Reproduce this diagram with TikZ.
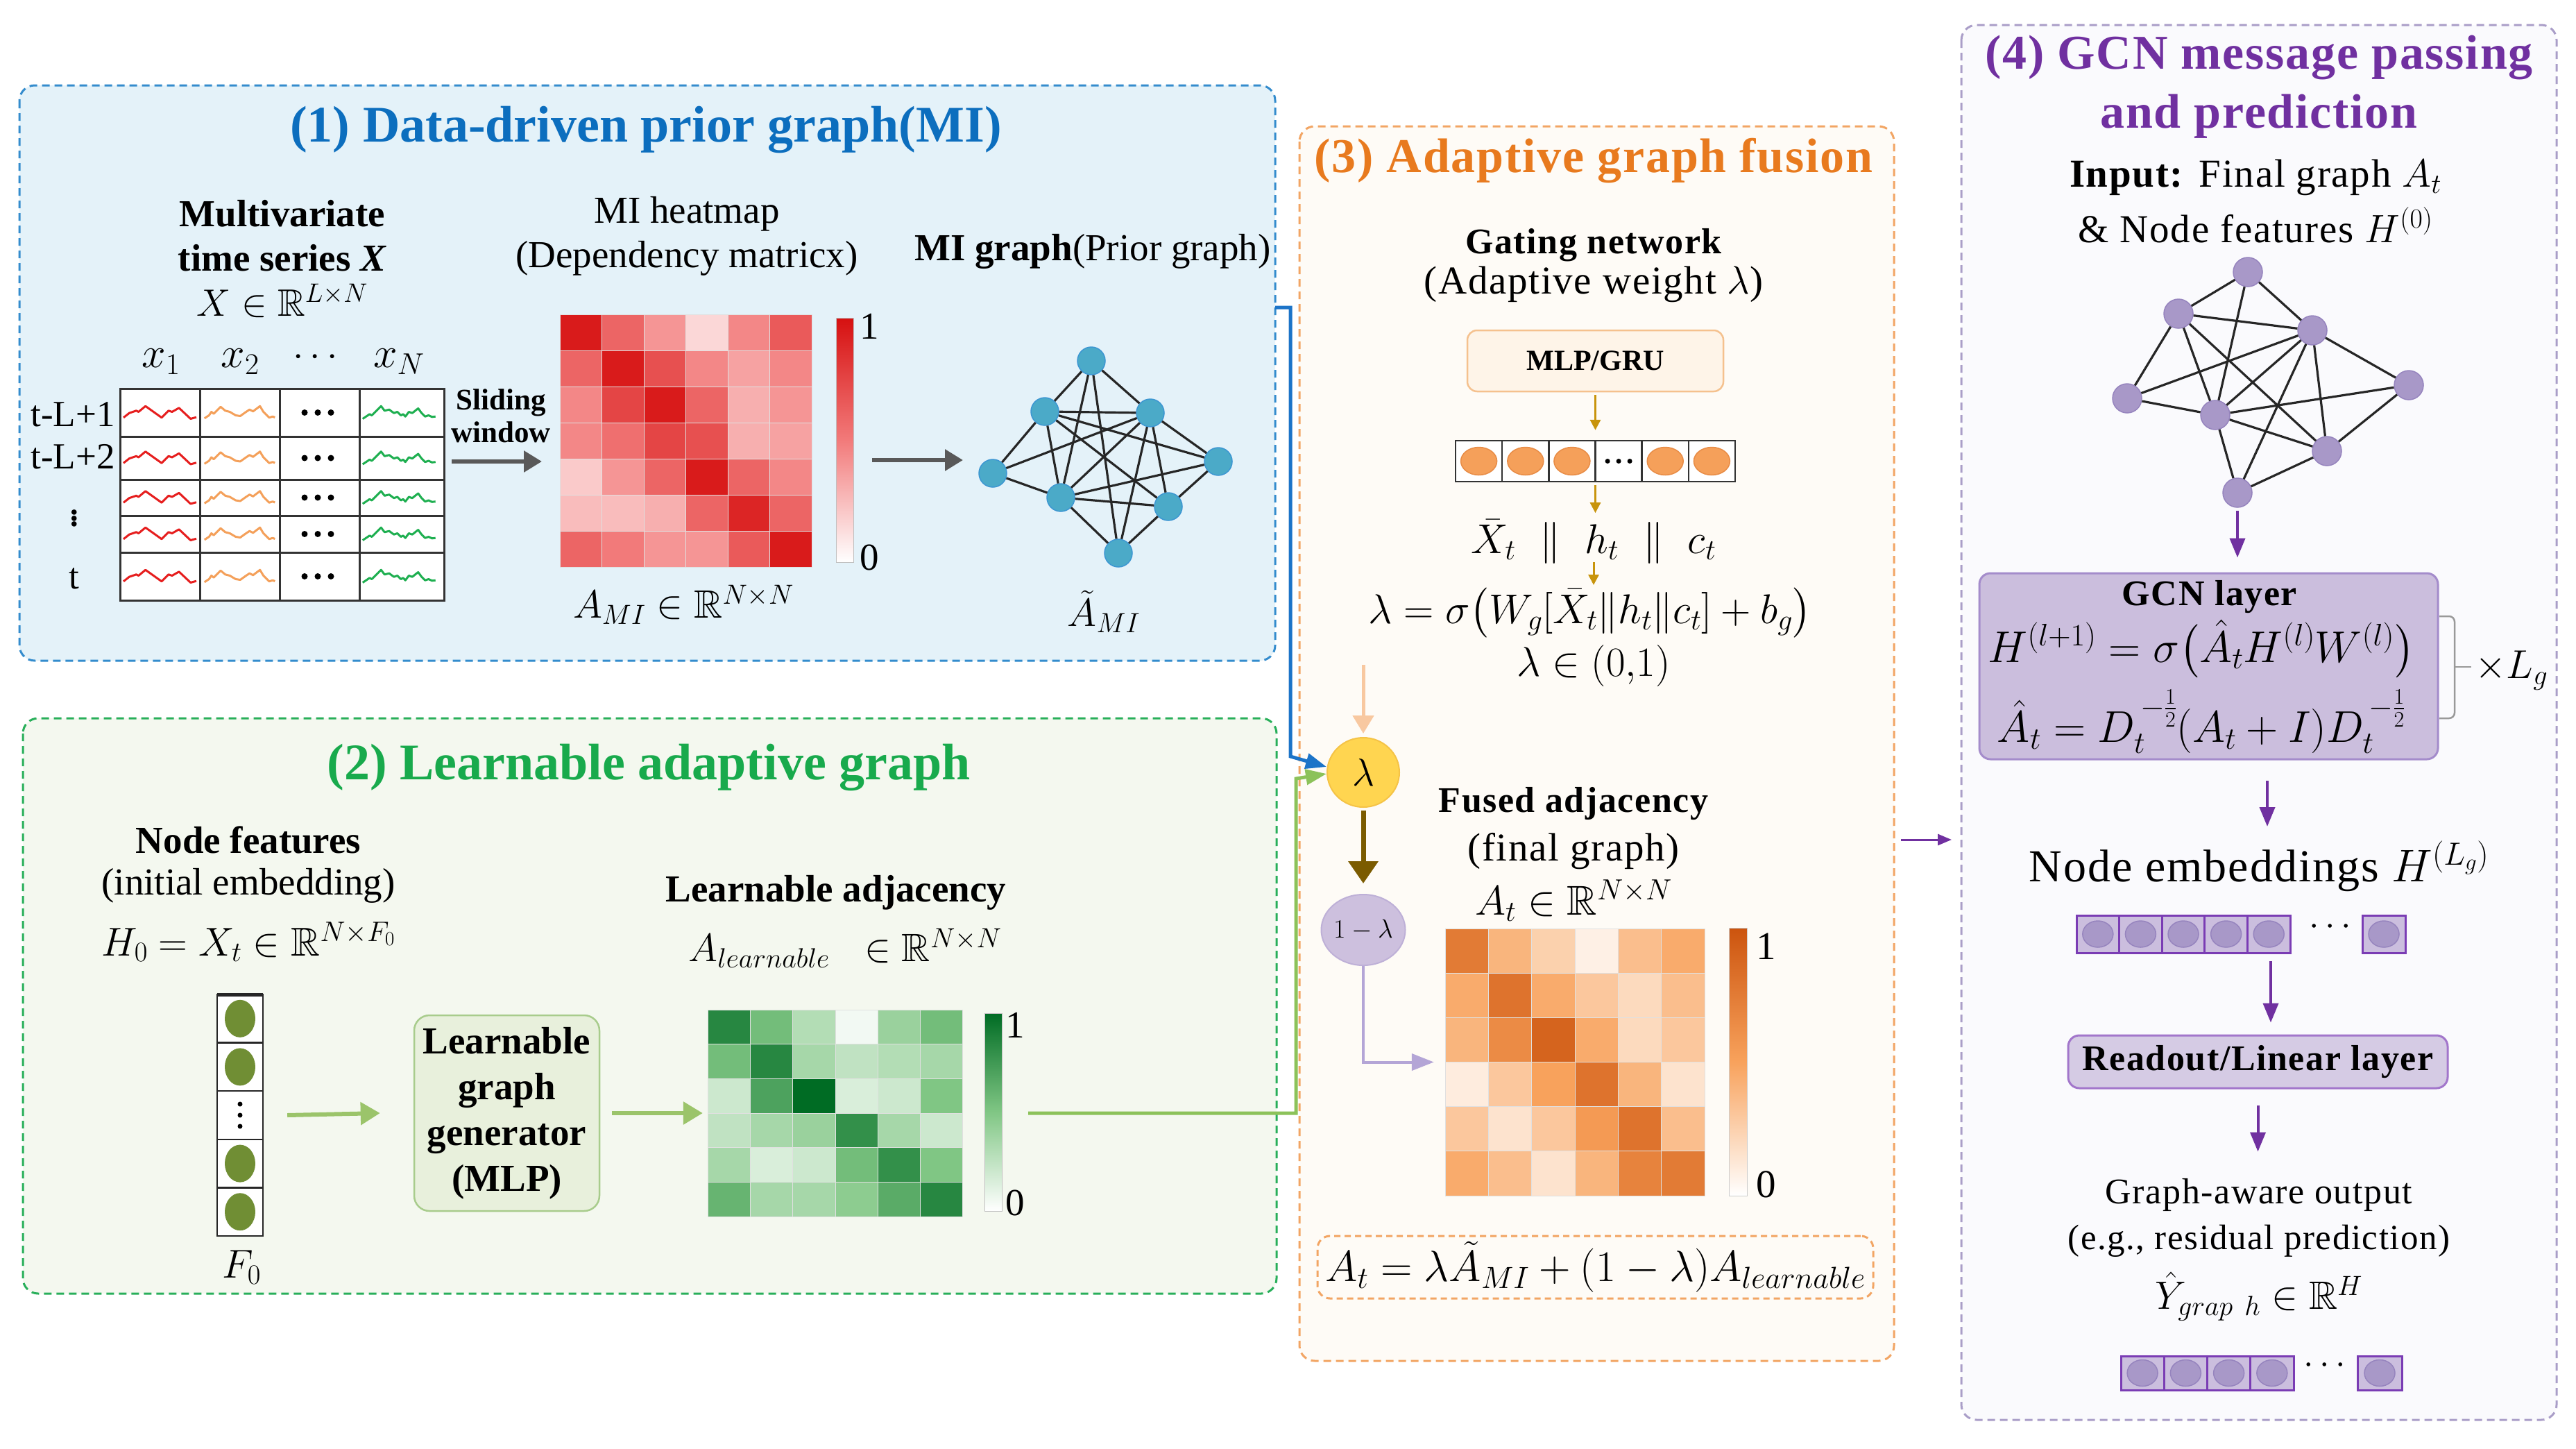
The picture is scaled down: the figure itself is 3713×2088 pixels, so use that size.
\RequirePackage{fix-cm}
\documentclass[tikz,border=0pt]{standalone}
\usepackage{amsmath,amssymb}
\usepackage{fontspec}
\newfontfamily\tms{Liberation Serif}
\newfontfamily\tmsw[LetterSpace=3]{Liberation Serif}
\usetikzlibrary{arrows.meta,calc,shapes.geometric}
\definecolor{p1fill}{RGB}{228,242,249}
\definecolor{p1bd}{RGB}{52,140,205}
\definecolor{p1title}{RGB}{12,110,190}
\definecolor{p2fill}{RGB}{244,248,239}
\definecolor{p2bd}{RGB}{40,175,90}
\definecolor{p2title}{RGB}{24,170,76}
\definecolor{p3fill}{RGB}{254,251,246}
\definecolor{p3bd}{RGB}{242,165,100}
\definecolor{p3title}{RGB}{232,122,30}
\definecolor{p4fill}{RGB}{250,250,253}
\definecolor{p4bd}{RGB}{170,158,200}
\definecolor{p4title}{RGB}{112,48,160}
\definecolor{bnode}{RGB}{75,170,200}
\definecolor{bnodebd}{RGB}{60,150,210}
\definecolor{pnode}{RGB}{168,152,200}
\definecolor{pnodebd}{RGB}{150,132,190}
\definecolor{hrmid}{RGB}{242,122,122}
\definecolor{hrhigh}{RGB}{214,16,16}
\definecolor{hgmid}{RGB}{128,198,132}
\definecolor{hghigh}{RGB}{0,108,36}
\definecolor{homid}{RGB}{248,162,92}
\definecolor{hohigh}{RGB}{204,84,14}
\definecolor{sqrc}{RGB}{230,30,30}
\definecolor{sqoc}{RGB}{244,160,90}
\definecolor{sqgc}{RGB}{30,175,80}
\definecolor{olivec}{RGB}{112,142,52}
\definecolor{orc}{RGB}{245,160,90}
\definecolor{orcbd}{RGB}{232,140,70}
\definecolor{garr}{RGB}{155,196,106}
\definecolor{goldarr}{RGB}{200,148,12}
\definecolor{loarr}{RGB}{248,200,160}
\definecolor{brarr}{RGB}{123,91,0}
\definecolor{lvarr}{RGB}{180,165,214}
\definecolor{parr}{RGB}{112,48,160}
\definecolor{bconnc}{RGB}{28,116,200}
\definecolor{gconnc}{RGB}{140,194,90}
\definecolor{lamfill}{RGB}{255,213,80}
\definecolor{lambd}{RGB}{245,195,70}
\definecolor{omlfill}{RGB}{205,192,222}
\definecolor{omlbd}{RGB}{190,176,215}
\definecolor{genfill}{RGB}{232,240,220}
\definecolor{genbd}{RGB}{168,204,140}
\definecolor{mlpfill}{RGB}{254,244,232}
\definecolor{mlpbd}{RGB}{245,193,142}
\definecolor{gcnfill}{RGB}{203,190,221}
\definecolor{gcnbd}{RGB}{164,140,203}
\definecolor{cellp}{RGB}{203,190,222}
\definecolor{cellpbd}{RGB}{122,60,180}
\newcommand\heatmap[6]{%
 \foreach \row [count=\r from 0] in {#6} {
   \foreach \v [count=\c from 0] in \row {
     \pgfmathtruncatemacro\hv{\v}
     \ifnum\hv<50\relax \pgfmathtruncatemacro\hp{2*\hv}\colorlet{hcell}{#5mid!\hp!white}%
     \else \pgfmathtruncatemacro\hp{2*(\hv-50)}\colorlet{hcell}{#5high!\hp!#5mid}\fi
     \fill[hcell, draw=black!12, line width=1pt] ({#1+\c*#3},{#2+\r*#4}) rectangle ++(#3,#4);
   }
 }
}
\tikzset{
 panel/.style={line width=3pt, dash pattern=on 11pt off 7pt, rounded corners=22pt},
 tA/.style={font=\tms\fontsize{55}{64}\selectfont},
 tAb/.style={font=\tms\bfseries\fontsize{55}{64}\selectfont},
 tC/.style={font=\tmsw\fontsize{57}{64}\selectfont},
 tCm/.style={font=\fontsize{60}{66}\selectfont},
 tCb/.style={font=\tmsw\bfseries\fontsize{52}{60}\selectfont},
 tD/.style={font=\tmsw\fontsize{57}{64}\selectfont},
 tbline/.style={line width=3pt, draw=black!80},
 sqr/.style={draw=sqrc, line width=3pt, line join=round},
 sqo/.style={draw=sqoc, line width=3pt, line join=round},
 sqg/.style={draw=sqgc, line width=3pt, line join=round},
 bgnode/.style={circle, minimum size=40pt, fill=bnode, draw=bnodebd, line width=1.5pt},
 pgnode/.style={circle, minimum size=42pt, fill=pnode, draw=pnodebd, line width=1.5pt},
 bedge/.style={line width=3.2pt, draw=black!85},
 pedge/.style={line width=3.2pt, draw=black!85},
 grayarrow/.style={line width=6pt, draw=black!65, -{Triangle[length=26pt,width=30pt]}},
 garrow/.style={line width=6pt, draw=garr, -{Triangle[length=28pt,width=32pt]}},
 goldarrow/.style={line width=3pt, draw=goldarr, -{Triangle[length=15pt,width=15pt]}},
 loarrow/.style={line width=5pt, draw=loarr, -{Triangle[length=26pt,width=30pt]}},
 brarrow/.style={line width=7pt, draw=brarr, -{Triangle[length=32pt,width=42pt]}},
 lvarrow/.style={line width=4pt, draw=lvarr, -{Triangle[length=32pt,width=24pt]}},
 parrow/.style={line width=4pt, draw=parr, -{Triangle[length=28pt,width=22pt]}},
 bconn/.style={line width=5pt, draw=bconnc, -{Triangle[length=30pt,width=22pt]}},
 gconn/.style={line width=5pt, draw=gconnc, -{Triangle[length=30pt,width=22pt]}},
 pcell/.style={fill=cellp, draw=cellpbd, line width=3pt},
 pcirc/.style={fill=pnode, draw=pnodebd, line width=1.5pt},
}
\begin{document}
\begin{tikzpicture}[x=1pt,y=-1pt, every node/.style={inner sep=0pt}]
\useasboundingbox (0,0) rectangle (3713,2088);
\fill[white] (0,0) rectangle (3713,2088);
% panels
\draw[panel, draw=p1bd, fill=p1fill] (28,123) rectangle (1838,952);
\draw[panel, draw=p2bd, fill=p2fill] (33,1035) rectangle (1840,1864);
\draw[panel, draw=p3bd, fill=p3fill] (1873,182) rectangle (2730,1961);
\draw[panel, draw=p4bd, fill=p4fill] (2827,36) rectangle (3685,2046);
% ---------- panel 1 ----------
\node[font=\tms\bfseries\fontsize{74}{80}\selectfont, text=p1title] (t1) at (931,187) {(1) Data-driven prior graph(MI)};
\node[tAb] (mv1) at (407,308) {Multivariate};
\node[tAb] (mv2) at (407,372) {time series \textit{X}};
\node[tA] (mv3) at (407,433) {$X\in\mathbb{R}^{L\times N}$};
\node[tA] (mh1) at (990,308) {MI heatmap};
\node[tA] (mh2) at (990,372) {(Dependency matricx)};
\node[tA] (mg) at (1575,362) {\textbf{MI graph}(Prior graph)};
\node[font=\fontsize{62}{64}\selectfont] (cx1) at (232,521) {$x_1$};
\node[font=\fontsize{62}{64}\selectfont] (cx2) at (346,521) {$x_2$};
\node[tA] (cx3) at (459,515) {$\cdots$};
\node[font=\fontsize{62}{64}\selectfont] (cx4) at (575,521) {$x_N$};
\node[minimum width=467pt, minimum height=305pt] (tbl) at (406.5,712.5) {};
\fill[white] (173,560) rectangle (640,865);
\foreach \yc in {594.5,660,717,769.5,830.5}{
 \draw[sqr, shift={(178,\yc)}] (0,7.3)--(8.3,0.7)--(18.3,-2.7)--(21.7,-1)--(31.7,-9.3)--(55,7.3)--(65,-2.7)--(70,-1)--(80,-6.7)--(96.7,9)--(105,6.7);
 \draw[sqo, shift={(293,\yc)}] (1.7,8.3)--(8.3,4)--(11.7,-1)--(15,1.7)--(25,-8.3)--(31.7,-2.7)--(38.3,-1)--(46.7,4)--(53.3,5)--(61.7,-1)--(66.7,-4.3)--(71.7,-1.7)--(81.7,-9.3)--(86.7,-1)--(95,7.3)--(100,5.7)--(103.3,7);
 \draw[sqg, shift={(521,\yc)}] (1.7,9)--(6.7,5.7)--(11.7,2.3)--(15,4)--(20,-1)--(28.3,-9.3)--(33.3,-2.7)--(40,-4.3)--(46.7,0.7)--(51.7,-1)--(56.7,4)--(60,2.3)--(63.3,5.7)--(68.3,-1)--(73.3,0.7)--(81.7,-6)--(86.7,0.7)--(91.7,5.7)--(96.7,4)--(101.7,6.3)--(106.7,5.7);
 \foreach \dx in {-19,0,19}{\fill (458+\dx,\yc) circle[radius=4.5pt];}
}
\draw[tbline] (173,560) rectangle (640,865);
\foreach \xx in {288,403,518}{\draw[tbline] (\xx,560) -- (\xx,865);}
\foreach \yy in {629,691,743,796}{\draw[tbline] (173,\yy) -- (640,\yy);}
\node[font=\tms\fontsize{53}{60}\selectfont] (rl1) at (105,597) {t-L+1};
\node[font=\tms\fontsize{53}{60}\selectfont] (rl2) at (105,658) {t-L+2};
\node[font=\tms\bfseries\fontsize{46}{50}\selectfont] (rl3) at (107,744) {$\vdots$};
\node[font=\tms\fontsize{53}{60}\selectfont] (rl4) at (107,834) {t};
\node[font=\tms\bfseries\fontsize{43}{50}\selectfont] (sw1) at (722,580) {Sliding};
\node[font=\tms\bfseries\fontsize{43}{50}\selectfont] (sw2) at (722,623) {window};
\heatmap{807}{453}{60.5}{52}{hr}{{95,60,40,15,45,65},{60,95,70,45,35,45},{45,75,95,60,30,40},{45,55,75,70,30,35},{20,40,60,95,60,45},{25,25,30,60,90,60},{60,50,40,40,65,95}}
\node[minimum width=363pt, minimum height=364pt] (hmR) at (988.5,635) {};
\shade[bottom color=hrmid, top color=hrhigh] (1205,458) rectangle (1230,634);
\shade[bottom color=white, top color=hrmid] (1205,634) rectangle (1230,810);
\draw[black!25, line width=1pt] (1205,458) rectangle (1230,810);
\node[tA] (cbr1) at (1253,470) {1};
\node[tA] (cbr0) at (1253,803) {0};
\node[font=\fontsize{57}{64}\selectfont] (ami) at (985,871) {$A_{MI}\in\mathbb{R}^{N\times N}$};
\coordinate (ga1s) at (651,665);
\coordinate (ga1e) at (781,665);
\draw[grayarrow] (ga1s) -- (ga1e);
\coordinate (ga2s) at (1257,663);
\coordinate (ga2e) at (1388,663);
\draw[grayarrow] (ga2s) -- (ga2e);
\node[bgnode] (bn1) at (1573,520) {};
\node[bgnode] (bn2) at (1506,593) {};
\node[bgnode] (bn3) at (1658,595) {};
\node[bgnode] (bn4) at (1431,682) {};
\node[bgnode] (bn5) at (1756,665) {};
\node[bgnode] (bn6) at (1529,717) {};
\node[bgnode] (bn7) at (1684,730) {};
\node[bgnode] (bn8) at (1612,797) {};
\foreach \a/\b in {1/2,1/3,1/6,1/8,2/3,2/4,2/6,2/5,2/7,3/4,3/6,3/5,3/7,3/8,4/6,6/5,6/7,6/8,7/5,7/8}{\draw[bedge] (bn\a) -- (bn\b);}
\node[font=\fontsize{57}{64}\selectfont] (amt) at (1591,881) {$\tilde{A}_{MI}$};
% ---------- panel 2 ----------
\node[font=\tms\bfseries\fontsize{74}{80}\selectfont, text=p2title] (t2) at (935,1106) {(2) Learnable adaptive graph};
\node[tAb] (nf1) at (358,1210) {Node features};
\node[tA] (nf2) at (358,1276) {(initial embedding)};
\node[font=\fontsize{58}{64}\selectfont] (nf3) at (358,1357) {$H_0=X_t\in\mathbb{R}^{N\times F_0}$};
\node[minimum width=66pt, minimum height=348pt] (vec) at (346,1607) {};
\fill[white] (313,1433) rectangle (379,1781);
\foreach \yc in {1467.8,1537.4,1676.6,1746.2}{\fill[olivec] (346,\yc) ellipse [x radius=22pt, y radius=27pt];}
\foreach \dy in {-16,0,16}{\fill (346,1607+\dy) circle[radius=3.5pt];}
\draw[line width=2.5pt, black!85] (313,1433) rectangle (379,1781);
\draw[line width=5pt, black!85] (313,1433) -- (379,1433);
\foreach \yy in {1502.6,1572.2,1641.8,1711.4}{\draw[line width=2.5pt, black!85] (313,\yy) -- (379,\yy);}
\node[font=\fontsize{58}{64}\selectfont] (f0) at (348,1826) {$F_0$};
\node[draw=genbd, fill=genfill, line width=2.5pt, rounded corners=22pt, minimum width=267pt, minimum height=282pt, align=center, font=\tms\bfseries\fontsize{55}{66}\selectfont] (gen) at (730.5,1604) {Learnable\\graph\\generator\\(MLP)};
\draw[garrow] ([xshift=35pt]vec.east) -- ([xshift=-48pt]gen.west);
\heatmap{1020}{1455}{61.33}{49.67}{hg}{{85,55,30,5,40,55},{55,85,35,25,30,35},{20,70,100,15,20,50},{25,35,40,80,35,20},{35,15,20,55,80,50},{60,35,35,45,65,85}}
\node[minimum width=368pt, minimum height=298pt] (hmG) at (1204,1604) {};
\draw[garrow] ([xshift=17pt]gen.east) -- ([xshift=-7pt]hmG.west);
\shade[bottom color=hgmid, top color=hghigh] (1419,1460) rectangle (1444,1602);
\shade[bottom color=white, top color=hgmid] (1419,1602) rectangle (1444,1745);
\draw[black!25, line width=1pt] (1419,1460) rectangle (1444,1745);
\node[tA] (cbg1) at (1463,1477) {1};
\node[tA] (cbg0) at (1463,1733) {0};
\node[tAb] (la1) at (1205,1286) {Learnable adjacency};
\node[font=\fontsize{57}{64}\selectfont] (la2) at (1218,1366) {$A_{learnable}\ \ \in\mathbb{R}^{N\times N}$};
% ---------- panel 3 ----------
\node[font=\tms\bfseries\fontsize{70}{76}\selectfont\addfontfeature{LetterSpace=2.5}, text=p3title] (t3) at (2297,232) {(3) Adaptive graph fusion};
\node[tCb] (gn1) at (2297,353) {Gating network};
\node[tC] (gn2) at (2297,410) {(Adaptive weight $\lambda$)};
\node[draw=mlpbd, fill=mlpfill, line width=2.5pt, rounded corners=14pt, minimum width=369pt, minimum height=88pt, font=\tms\bfseries\fontsize{42}{48}\selectfont] (mlp) at (2299.5,520) {MLP/GRU};
\node[minimum width=403pt, minimum height=59pt] (vo) at (2299.5,664.5) {};
\fill[white] (2098,635) rectangle (2501,694);
\foreach \xc in {2131.6,2198.8,2265.9,2400.2,2467.4}{\fill[orc, draw=orcbd, line width=1.5pt] (\xc,664.5) ellipse [x radius=26pt, y radius=20pt];}
\foreach \dx in {-16,0,16}{\fill (2333.1+\dx,664.5) circle[radius=3.5pt];}
\draw[line width=2.5pt, black!80] (2098,635) rectangle (2501,694);
\foreach \xx in {2165.2,2232.3,2299.5,2366.7,2433.8}{\draw[line width=2.5pt, black!80] (\xx,635) -- (\xx,694);}
\draw[goldarrow] ([yshift=-4pt]mlp.south) -- ([yshift=15pt]vo.north);
\draw[goldarrow] ([yshift=-5pt]vo.south) -- ++(0,40);
\node[tCm] (xc) at (2297,781) {$\bar{X}_t\ \parallel\ h_t\ \parallel\ c_t$};
\coordinate (g3) at (2297,810);
\draw[goldarrow] (g3) -- ++(0,33);
\node[tCm] (lf) at (2292,883) {$\lambda=\sigma\bigl(W_g[\bar{X}_t\|h_t\|c_t]+b_g\bigr)$};
\node[tCm] (lr) at (2297,959) {$\lambda\in(0{,}1)$};
\node[ellipse, fill=lamfill, draw=lambd, line width=2pt, minimum width=104pt, minimum height=100pt, font=\fontsize{56}{60}\selectfont] (lam) at (1965,1113) {$\lambda$};
\draw[loarrow] ([yshift=104pt]lam.north) -- ([yshift=5pt]lam.north);
\node[ellipse, fill=omlfill, draw=omlbd, line width=2pt, minimum width=106pt, minimum height=102pt, font=\fontsize{38}{40}\selectfont] (oml) at (1965,1340) {$1-\lambda$};
\draw[brarrow] ([yshift=-4pt]lam.south) -- ([yshift=15pt]oml.north);
\node[tCb] (fa1) at (2268,1158) {Fused adjacency};
\node[tC] (fa2) at (2268,1227) {(final graph)};
\node[tCm] (fa3) at (2268,1298) {$A_t\in\mathbb{R}^{N\times N}$};
\heatmap{2083}{1338}{62.33}{64.17}{ho}{{75,40,25,8,35,45},{45,80,45,30,20,35},{40,65,90,45,20,30},{10,30,50,80,40,15},{30,15,30,55,80,35},{45,35,15,40,70,75}}
\node[minimum width=374pt, minimum height=385pt] (hmO) at (2270,1530.5) {};
\draw[lvarrow] (oml.south) |- ([xshift=-16pt]hmO.west);
\shade[bottom color=homid, top color=hohigh] (2492,1337) rectangle (2518,1530);
\shade[bottom color=white, top color=homid] (2492,1530) rectangle (2518,1723);
\draw[black!20, line width=1pt] (2492,1337) rectangle (2518,1723);
\node[tC] (cbo1) at (2546,1364) {1};
\node[tC] (cbo0) at (2546,1707) {0};
\node[draw=p3bd, line width=3pt, dash pattern=on 9pt off 6pt, rounded corners=18pt, minimum width=801pt, minimum height=90pt, font=\fontsize{63}{66}\selectfont] (fb) at (2299.5,1826) {$A_t=\lambda\tilde{A}_{MI}+(1-\lambda)A_{learnable}$};
% connectors into lambda
\coordinate (bstart) at (1838,443);
\coordinate (bturn) at (1860,1090);
\draw[bconn] (bstart) -| (bturn) -- ([yshift=8pt]lam.west);
\coordinate (gturn) at (1868,1122);
\draw[gconn] ([xshift=94pt]hmG.east) -| (gturn) -- ([yshift=-2pt]lam.west);
% ---------- panel 4 ----------
\node[font=\tms\bfseries\fontsize{70}{76}\selectfont\addfontfeature{LetterSpace=2.5}, text=p4title] (t4a) at (3256,83) {(4) GCN message passing};
\node[font=\tms\bfseries\fontsize{70}{76}\selectfont\addfontfeature{LetterSpace=2.5}, text=p4title] (t4b) at (3256,168) {and prediction};
\node[tD] (in1) at (3251,256) {\textbf{Input:} Final graph $A_t$};
\node[tD] (in2) at (3251,324) {\& Node features $H^{(0)}$};
\node[pgnode] (pn1) at (3240,392) {};
\node[pgnode] (pn2) at (3140,452) {};
\node[pgnode] (pn3) at (3333,476) {};
\node[pgnode] (pn4) at (3066,574) {};
\node[pgnode] (pn5) at (3472,555) {};
\node[pgnode] (pn6) at (3193,598) {};
\node[pgnode] (pn7) at (3354,650) {};
\node[pgnode] (pn8) at (3225,710) {};
\foreach \a/\b in {1/2,1/3,1/6,2/3,2/4,2/6,2/7,3/4,3/6,3/8,3/5,3/7,4/6,6/5,6/7,6/8,7/5,7/8}{\draw[pedge] (pn\a) -- (pn\b);}
\node[draw=gcnbd, fill=gcnfill, line width=3pt, rounded corners=16pt, minimum width=661pt, minimum height=268pt] (gcn) at (3183.5,960) {};
\draw[parrow] ([yshift=-4pt]pn8.south) -- ([yshift=21pt]gcn.north -| pn8);
\node[font=\tmsw\bfseries\fontsize{52}{56}\selectfont] (gl) at (3185,860) {GCN layer};
\node[font=\fontsize{64}{66}\selectfont] (gf1) at (3173,935) {$H^{(l+1)}=\sigma\bigl(\hat{A}_tH^{(l)}W^{(l)}\bigr)$};
\node[font=\fontsize{64}{66}\selectfont] (gf2) at (3173,1040) {$\hat{A}_t=D_t^{\,-\frac{1}{2}}(A_t+I)D_t^{\,-\frac{1}{2}}$};
\draw[black!40, line width=2.5pt, rounded corners=8pt] (3516,888) -- (3538,888) -- (3538,1035) -- (3516,1035);
\draw[black!40, line width=2.5pt] (3538,961) -- (3562,961);
\node[font=\fontsize{58}{60}\selectfont] (lg) at (3620,966) {$\times L_g$};
\coordinate (pa1) at (3268,1125);
\coordinate (pa1e) at (3268,1191);
\draw[parrow] (pa1) -- (pa1e);
\node[font=\tmsw\fontsize{66}{70}\selectfont] (ne) at (3256,1248) {Node embeddings $H^{(L_g)}$};
\foreach \i in {0,...,4}{
  \draw[pcell] ({2993+\i*61.6},1319) rectangle ++(61.6,54);
  \draw[pcirc] ({2993+\i*61.6+30.8},1346) ellipse [x radius=22pt, y radius=19pt];
}
\node[minimum width=308pt, minimum height=54pt] (nev) at (3147,1346) {};
\node[font=\bfseries\fontsize{52}{52}\selectfont] (ned) at (3363,1336) {$\cdots$};
\draw[pcell] (3405,1319) rectangle (3467,1373);
\draw[pcirc] (3436,1346) ellipse [x radius=22pt, y radius=19pt];
\node[draw=cellpbd!70, fill=gcnfill!80, line width=3pt, rounded corners=16pt, minimum width=547pt, minimum height=76pt, font=\tmsw\bfseries\fontsize{52}{56}\selectfont] (ro) at (3254.5,1530) {Readout/Linear layer};
\coordinate (pa2) at (3273,1385);
\draw[parrow] (pa2) -- ([yshift=17pt]ro.north -| pa2);
\draw[parrow] ([yshift=-23pt]ro.south) -- ++(0,67);
\node[font=\tmsw\fontsize{52}{60}\selectfont] (go1) at (3256,1722) {Graph-aware output};
\node[font=\tmsw\fontsize{51}{60}\selectfont] (go2) at (3256,1788) {(e.g., residual prediction)};
\node[font=\fontsize{57}{60}\selectfont] (go3) at (3256,1868) {$\hat{Y}_{grap\ h}\in\mathbb{R}^H$};
\foreach \i in {0,...,3}{
  \draw[pcell] ({3057+\i*62.25},1954) rectangle ++(62.25,49);
  \draw[pcirc] ({3057+\i*62.25+31.1},1978.5) ellipse [x radius=22pt, y radius=19pt];
}
\node[font=\bfseries\fontsize{52}{52}\selectfont] (god) at (3355,1968) {$\cdots$};
\draw[pcell] (3398,1954) rectangle (3462,2003);
\draw[pcirc] (3430,1978.5) ellipse [x radius=22pt, y radius=19pt];
% inter-panel arrow
\coordinate (ia) at (2740,1210);
\draw[parrow, line width=3pt, -{Triangle[length=20pt,width=16pt]}] (ia) -- ++(73,0);
\end{tikzpicture}
\end{document}
